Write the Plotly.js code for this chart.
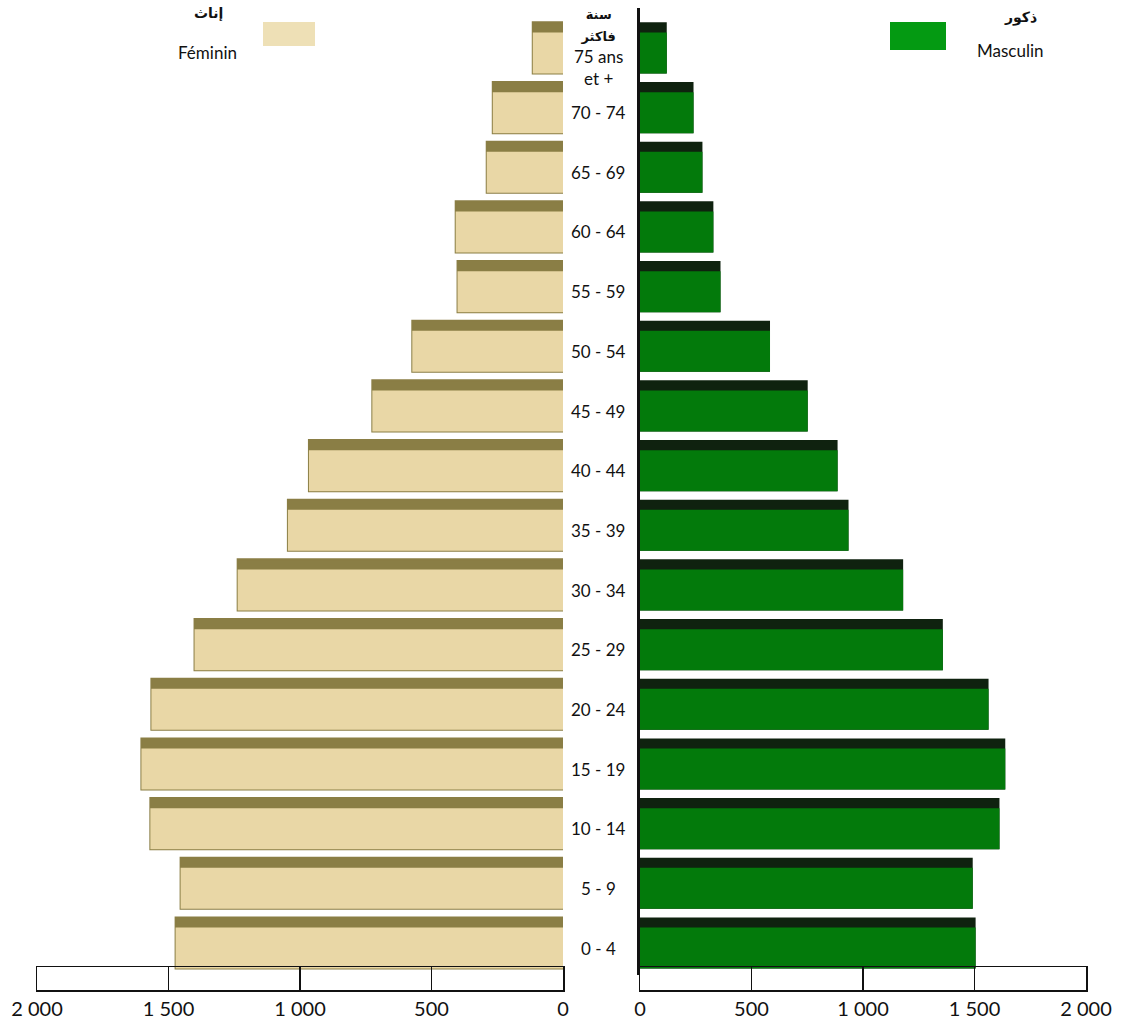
<!DOCTYPE html>
<html>
<head>
<meta charset="utf-8">
<script src="https://cdn.plot.ly/plotly-3.0.1.min.js"></script>
<style>html,body{margin:0;padding:0;background:#fff;}#chart{width:1129px;height:1028px;}</style>
</head>
<body>
<div id="chart"></div>
<script>
// ---- data ----
const ageGroups = ['0-4','5-9','10-14','15-19','20-24','25-29','30-34','35-39','40-44','45-49','50-54','55-59','60-64','65-69','70-74','75+'];
const ageLabels = ['0 - 4','5 - 9','10 - 14','15 - 19','20 - 24','25 - 29','30 - 34','35 - 39','40 - 44','45 - 49','50 - 54','55 - 59','60 - 64','65 - 69','70 - 74',
  '<span style="font-family:DejaVu Sans;font-size:13px"><b>سنة</b></span><br><span style="font-family:DejaVu Sans;font-size:13px"><b>فاكثر</b></span><br>75 ans<br>et +'];
const female = [1473,1454,1569,1603,1565,1401,1237,1046,966,725,573,401,408,290,267,115];
const male   = [1505,1492,1612,1638,1563,1358,1180,935,886,752,583,361,329,280,240,120];
const tickValues = [0,500,1000,1500,2000];
const tickLabels = ['0','500','1 000','1 500','2 000'];
const femaleLabelAr = 'إناث', femaleLabelFr = 'Féminin';
const maleLabelAr = 'ذكور', maleLabelFr = 'Masculin';

// ---- layout helpers (pixels -> paper) ----
const W = 1129, H = 1028;
const px = v => v / W, py = v => 1 - v / H;

const frontW = 0.687, topW = 0.17;
const colF = '#E9D7A6', colFtop = '#8A7E45';
const colM = '#037A0B', colMtop = '#0F220F';

const traces = [
  {type:'bar', orientation:'h', y:ageGroups, x:female, xaxis:'x', yaxis:'y',
   width:frontW+topW, offset:-frontW/2, marker:{color:colFtop, line:{color:colFtop, width:2}}, hoverinfo:'skip'},
  {type:'bar', orientation:'h', y:ageGroups, x:female, xaxis:'x', yaxis:'y',
   width:frontW, offset:-frontW/2, marker:{color:colF, line:{width:0}}, hoverinfo:'skip'},
  {type:'bar', orientation:'h', y:ageGroups, x:male, xaxis:'x2', yaxis:'y2',
   width:frontW+topW, offset:-frontW/2, marker:{color:colMtop, line:{width:0}}, hoverinfo:'skip'},
  {type:'bar', orientation:'h', y:ageGroups, x:male, xaxis:'x2', yaxis:'y2',
   width:frontW, offset:-frontW/2, marker:{color:colM, line:{width:0}}, hoverinfo:'skip'},
  // floor boxes
  {type:'scatter', x:[], y:[], xaxis:'x3', yaxis:'y3', hoverinfo:'skip'},
  {type:'scatter', x:[], y:[], xaxis:'x4', yaxis:'y4', hoverinfo:'skip'}
];

const yMainDomain = [py(975), py(8)];
const yMainRange = [-0.452, 15.754];
const floorDomain = [py(990), py(967)];
const leftDom = [px(37), px(563)], rightDom = [px(640), px(1086)];

const floorX = (dom, rng, anchor) => ({
  domain: dom, range: rng, anchor: anchor, showgrid:false, zeroline:false,
  showline:true, mirror:true, linecolor:'#111', linewidth:1.5,
  ticks:'inside', ticklen:23, tickwidth:1.5, tickcolor:'#111',
  tickvals: tickValues, ticktext: tickLabels, ticklabelstandoff: 0,
  tickfont:{family:'Lato, sans-serif', size:20, color:'#111'}
});
const floorY = (anchor) => ({
  domain: floorDomain, range:[0,1], anchor: anchor, showgrid:false, zeroline:false,
  showline:true, mirror:true, linecolor:'#111', linewidth:1.5, showticklabels:false, ticks:''
});

const annotations = ageLabels.map((t, i) => ({
  text: t, xref:'paper', x: px(598), yref:'y', y: ageGroups[i],
  showarrow:false, xanchor:'center', yanchor:'middle', align:'center',
  yshift: i === ageLabels.length - 1 ? 5 : 0,
  font:{family:'Lato, sans-serif', size:17, color:'#111'}
}));
annotations.push(
  {text:'<b>' + femaleLabelAr + '</b>', xref:'paper', yref:'paper', x:px(208), y:py(14), showarrow:false, xanchor:'center', yanchor:'middle',
   font:{family:'DejaVu Sans', size:14, color:'#111'}},
  {text:femaleLabelFr, xref:'paper', yref:'paper', x:px(207), y:py(52), showarrow:false, xanchor:'center', yanchor:'middle',
   font:{family:'Lato, sans-serif', size:17, color:'#111'}},
  {text:'<b>' + maleLabelAr + '</b>', xref:'paper', yref:'paper', x:px(1020), y:py(17), showarrow:false, xanchor:'center', yanchor:'middle',
   font:{family:'DejaVu Sans', size:14, color:'#111'}},
  {text:maleLabelFr, xref:'paper', yref:'paper', x:px(1010), y:py(50), showarrow:false, xanchor:'center', yanchor:'middle',
   font:{family:'Lato, sans-serif', size:17, color:'#111'}}
);

const layout = {
  width: W, height: H, margin:{l:0, r:0, t:0, b:0}, paper_bgcolor:'#fff', plot_bgcolor:'rgba(0,0,0,0)',
  showlegend:false, barmode:'overlay',
  xaxis: {domain:leftDom, range:[2000,0], anchor:'y', visible:false, fixedrange:true},
  yaxis: {domain:yMainDomain, range:yMainRange, type:'category', categoryorder:'array', categoryarray:ageGroups,
          anchor:'x', visible:false, fixedrange:true},
  xaxis2: {domain:rightDom, range:[0,2000], anchor:'y2', visible:false, fixedrange:true},
  yaxis2: {domain:yMainDomain, range:yMainRange, type:'category', categoryorder:'array', categoryarray:ageGroups,
           anchor:'x2', showline:true, linecolor:'#111', linewidth:3, showticklabels:false, ticks:'',
           showgrid:false, zeroline:false, fixedrange:true},
  xaxis3: floorX(leftDom, [2000,0], 'y3'),
  yaxis3: floorY('x3'),
  xaxis4: floorX(rightDom, [0,2000], 'y4'),
  yaxis4: floorY('x4'),
  shapes: [
    {type:'rect', xref:'paper', yref:'paper', x0:px(263), x1:px(315), y0:py(46), y1:py(22), fillcolor:'#EEE0B6', line:{width:0}},
    {type:'rect', xref:'paper', yref:'paper', x0:px(890), x1:px(946), y0:py(50), y1:py(22), fillcolor:'#049A12', line:{width:0}}
  ],
  annotations: annotations
};

Plotly.newPlot('chart', traces, layout, {staticPlot:true, displayModeBar:false});
</script>
</body>
</html>
